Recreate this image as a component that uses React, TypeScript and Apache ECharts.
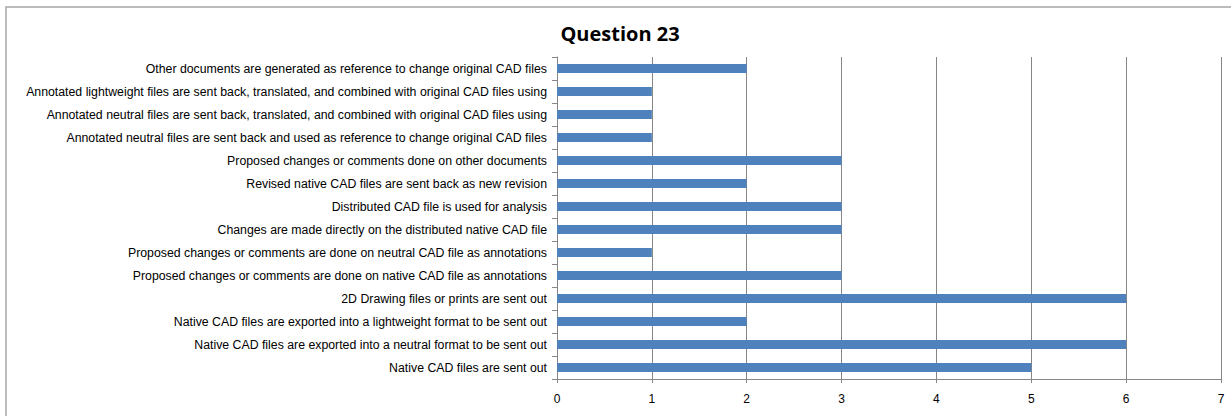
import React, { useEffect, useRef } from "react";
import * as echarts from "echarts";

// Answers listed bottom-to-top (category axis order)
const categories: string[] = [
  "Native CAD files are sent out",
  "Native CAD files are exported into a neutral format to be sent out",
  "Native CAD files are exported into a lightweight format to be sent out",
  "2D Drawing files or prints are sent out",
  "Proposed changes or comments are done on native CAD file as annotations",
  "Proposed changes or comments are done on neutral CAD file as annotations",
  "Changes are made directly on the distributed native CAD file",
  "Distributed CAD file is used for analysis",
  "Revised native CAD files are sent back as new revision",
  "Proposed changes or comments done on other documents",
  "Annotated neutral files are sent back and used as reference to change original CAD files",
  "Annotated neutral files are sent back, translated, and combined with original CAD files using",
  "Annotated lightweight files are sent back, translated, and combined with original CAD files using",
  "Other documents are generated as reference to change original CAD files",
];

const counts: number[] = [5, 6, 2, 6, 3, 1, 3, 3, 2, 3, 1, 1, 1, 2];

const xTicks = { min: 0, max: 7, interval: 1 };

const FONT = "'Liberation Sans', Arial, sans-serif";

export default function App() {
  const ref = useRef<HTMLDivElement>(null);

  useEffect(() => {
    document.body.style.margin = "0";
    if (!ref.current) return;
    const chart = echarts.init(ref.current, undefined, { renderer: "svg" });
    chart.setOption({
      animation: false,
      backgroundColor: "#ffffff",
      title: {
        text: "Question 23",
        left: 615,
        top: 18,
        textAlign: "center",
        textStyle: { fontFamily: "'Open Sans', sans-serif", fontWeight: "bold", fontSize: 20, color: "#000" },
      },
      graphic: [
        {
          type: "rect",
          shape: { x: 6, y: 7, width: 1240, height: 420 },
          style: { fill: "none", stroke: "#a6a6a6", lineWidth: 1.5 },
          silent: true,
        },
      ],
      grid: { left: 557, right: 10, top: 57, bottom: 37, containLabel: false, outerBoundsMode: "none" },
      xAxis: {
        type: "value",
        min: xTicks.min,
        max: xTicks.max,
        interval: xTicks.interval,
        axisLine: { show: true, lineStyle: { color: "#868686" } },
        axisTick: { show: true, length: 4, lineStyle: { color: "#868686" } },
        splitLine: { show: true, lineStyle: { color: "#868686", width: 1 } },
        axisLabel: { fontFamily: FONT, fontSize: 12, color: "#000", margin: 14 },
      },
      yAxis: {
        type: "category",
        data: categories,
        axisLine: { show: true, lineStyle: { color: "#868686" } },
        axisTick: { show: true, length: 5, lineStyle: { color: "#868686" } },
        splitLine: { show: false },
        axisLabel: { fontFamily: FONT, fontSize: 12.3, color: "#000", margin: 10 },
      },
      series: [
        {
          type: "bar",
          data: counts,
          barWidth: 9,
          itemStyle: { color: "#4F81BD" },
        },
      ],
    });
    return () => chart.dispose();
  }, []);

  return <div ref={ref} style={{ width: 1231, height: 416 }} />;
}
